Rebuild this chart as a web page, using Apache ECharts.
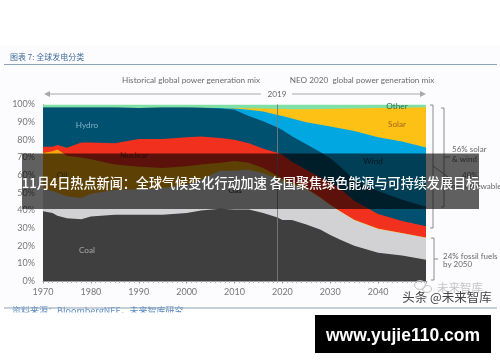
<!DOCTYPE html>
<html><head><meta charset="utf-8">
<style>html,body{margin:0;padding:0;background:#fff}#c{width:500px;height:362px}</style>
<script src="https://cdn.jsdelivr.net/npm/echarts@6/dist/echarts.min.js"></script>
</head><body><div id="c"></div>
<script>
const years=[1970,1972,1973,1975,1978,1980,1985,1990,1995,2000,2003,2007,2010,2013,2016,2019,2020,2022,2025,2028,2030,2032,2035,2040,2045,2050];
const coal=[39.5,38.5,37,35.5,35,36.5,37.5,37.5,37.5,38.5,40,41,40.5,40.5,38.5,36,34.5,34.5,32,29,26,23.5,20,16,14.5,12];
const gas=[12.5,12.5,13,12.5,12,13,14,14.5,15,16,17.5,21.5,22,22.5,22.5,22,22,20.5,20,18,17,16,14.5,13.5,12.5,12.5];
const oil=[20.5,22.5,24.5,23,23,19.5,14.5,12.7,11.5,10.5,8.5,4.5,5.5,4,3,1.5,1.5,1,0.5,0.2,0.2,0.2,0.2,0.2,0.2,0.2];
const nuclear=[3.5,2.5,2.5,4.5,8.4,9.5,12,15.8,16.5,16.5,15.8,14,12,11,11,13.2,13.5,11.5,10.5,11.3,12.8,12.8,10.8,8.3,6.8,6.3];
const hydro=[22.3,22.3,21.3,22.8,19.9,19.8,20.3,17.5,17.8,16.8,16.4,16.7,17,15.5,15.5,14.3,14,14.5,14.5,14.5,13.5,12.5,12,13,12,11];
const wind=[0,0,0,0,0,0,0,0,0,0,0,0.3,0.8,3.5,5.5,7,8,10,12.5,15.5,18,21.5,27.5,30.5,33,33.7];
const solar=[0,0,0,0,0,0,0,0,0,0,0,0,0.2,0.9,1.7,3.5,4,5.3,7.3,8.9,10,11.1,12.8,16.5,19.2,22.7];
const other=[1.7,1.7,1.7,1.7,1.7,1.7,1.7,2,1.7,1.7,1.8,2,2,2.1,2.3,2.5,2.5,2.7,2.7,2.6,2.5,2.4,2.2,2,1.8,1.6];
const layers=[['Coal',coal,'#403f3f'],['Gas',gas,'#d2d1d3'],['Oil',oil,'#f5a90d'],['Nuclear',nuclear,'#f1301d'],['Hydro',hydro,'#00506f'],['Wind',wind,'#00a7e1'],['Solar',solar,'#fdc116'],['Other',other,'#7fe0a6']];
const LF='Lato,"Noto Sans",sans-serif', CJK='"Noto Sans CJK SC",sans-serif';
// running totals: each layer is drawn from the axis up to its cumulative top, the highest layer first
const totals=years.map(()=>0);
const stacked=layers.map(([name,vals,color])=>{
  vals.forEach((v,k)=>{totals[k]+=v;});
  return {name,color,tops:totals.map(t=>Math.round(t*10)/10)};
});
const series=stacked.slice().reverse().map(({name,color,tops},i)=>({
  name,type:'line',symbol:'none',silent:true,
  lineStyle:{width:0},itemStyle:{color},areaStyle:{color,opacity:1},
  data:years.map((y,k)=>[y,tops[k]]),
  z:3+i*0.01,
  ...(name==='Coal'?{markLine:{silent:true,symbol:'none',label:{show:false},lineStyle:{color:'#77797b',width:1,type:'solid',opacity:.9},data:[{xAxis:2019}],z:6}}:{})
}));
const T=(text,x,y,size,fill,o={})=>({type:'text',z:o.z||20,silent:true,style:Object.assign({text,x,y,font:(o.w||'normal')+' '+size+'px '+(o.f||LF),fill,textAlign:o.a||'center',textVerticalAlign:'middle'},o.s||{})});
const L=(x1,y1,x2,y2,c='#8d8d8d',w=1)=>({type:'line',z:20,silent:true,shape:{x1,y1,x2,y2},style:{stroke:c,lineWidth:w}});
const P=(points,c='#8d8d8d',w=1)=>({type:'polyline',z:20,silent:true,shape:{points},style:{stroke:c,lineWidth:w,fill:'none'}});
const R=(x,y,width,height,fill,z=30)=>({type:'rect',z,silent:true,shape:{x,y,width,height},style:{fill}});
const Tri=(pts,c)=>({type:'polygon',z:20,silent:true,shape:{points:pts},style:{fill:c}});
const graphic=[
  R(0,45,500,263,'#fcfbfd',-1),
  T('图表 7: 全球发电分类',10,57,8,'#3f6c9c',{a:'left',f:CJK,s:{fontStyle:'italic'}}),
  L(4,64.5,497,64.5,'#8ba3b7',1.2),
  T('Historical global power generation mix',191,80,8.2,'#6a6a6a'),
  T('NEO 2020  global power generation mix',362,80,8.2,'#6a6a6a'),
  T('2019',277,94,8.2,'#6a6a6a'),
  L(50,94,261,94,'#a9a9a9'),Tri([[44,94],[50,91],[50,97]],'#a9a9a9'),
  L(292,94,421,94,'#a9a9a9'),Tri([[426,94],[420,91],[420,97]],'#a9a9a9'),
  T('Hydro',87,125,8.2,'#7fb4c8'),
  T('Nuclear',134,155,8.2,'#6b1a12'),
  T('Oil',62,175,8.2,'#6b5a10'),
  T('Gas',235,190,8.2,'#333'),
  T('Coal',87,250,8.2,'#a8a8a8'),
  T('Other',397,106,8.2,'#2e6a50'),
  T('Solar',397,124,8.2,'#a3651a'),
  T('Wind',373,161,8.2,'#123c52'),
  P([[430,105],[433,105],[433,228],[430,228]]),
  P([[441,108],[444,108],[444,207],[441,207]]),
  L(444,157,450,157),
  L(433,166,448,177),
  P([[431,238],[434,238],[434,280],[431,280]]),
  L(434,259,438,259),
  T('56% solar',452,149,8,'#6a6a6a',{a:'left'}),
  T('& wind',452,159,8,'#6a6a6a',{a:'left'}),
  T('40%',462,175,8,'#6a6a6a',{a:'left'}),
  T('other renewables',444,186,8,'#6a6a6a',{a:'left'}),
  T('24% fossil fuels',443,256,8,'#6a6a6a',{a:'left'}),
  T('by 2050',443,264.5,8,'#6a6a6a',{a:'left'}),
  {type:'ellipse',z:21,silent:true,shape:{cx:420,cy:285,rx:5.5,ry:4.5},style:{fill:'none',stroke:'#c4c4c4',lineWidth:1}},
  {type:'ellipse',z:21,silent:true,shape:{cx:427,cy:289,rx:4.5,ry:3.5},style:{fill:'none',stroke:'#c4c4c4',lineWidth:1}},
  T('未来智库',460,288,11.5,'#c6c6c6',{f:CJK,z:21}),
  T('头条 @未来智库',447,297,12.5,'#444',{f:CJK,z:22}),
  T('资料来源：BloombergNEF，未来智库研究',12,311,9,'#5b8ac0',{a:'left',f:CJK,z:15}),
  L(4,308,497,308,'#8ba3b7',1.2),
  R(0,312.5,500,49.5,'#fff',16),
  R(315,315,176,38,'#000',30),
  T('www.yujie110.com',403,336,17.5,'#fff',{w:'bold',f:'"Liberation Sans",sans-serif',z:31}),
  R(22,153.5,457,55.5,'rgba(0,0,0,0.62)',30),
  T('11月4日热点新闻：全球气候变化行动加速 各国聚焦绿色能源与可持续发展目标',250.5,183,13.1,'#fff',{w:'500',f:CJK,z:31})
];
const chart=echarts.init(document.getElementById('c'),null,{renderer:'canvas'});
chart.setOption({
  animation:false,backgroundColor:'transparent',
  grid:{left:43,right:74,top:104.5,bottom:81},
  xAxis:{type:'value',min:1970,max:2050,interval:10,
    axisLine:{show:true,lineStyle:{color:'#9a9a9a'}},
    axisTick:{show:true,length:2.5,lineStyle:{color:'#9a9a9a'}},
    minorTick:{show:true,splitNumber:10,length:2,lineStyle:{color:'#b0b0b0'}},
    splitLine:{show:false},minorSplitLine:{show:false},
    axisLabel:{color:'#777',fontSize:9,fontFamily:'Lato,sans-serif',margin:7,formatter:v=>String(v),showMinLabel:true,showMaxLabel:false}},
  yAxis:{type:'value',min:0,max:100,interval:10,
    axisLine:{show:true,lineStyle:{color:'#9a9a9a'}},axisTick:{show:false},splitLine:{show:false},
    axisLabel:{color:'#777',fontSize:9,fontFamily:'Lato,sans-serif',margin:8,formatter:v=>v+'%'}},
  series,graphic
});
</script></body></html>
